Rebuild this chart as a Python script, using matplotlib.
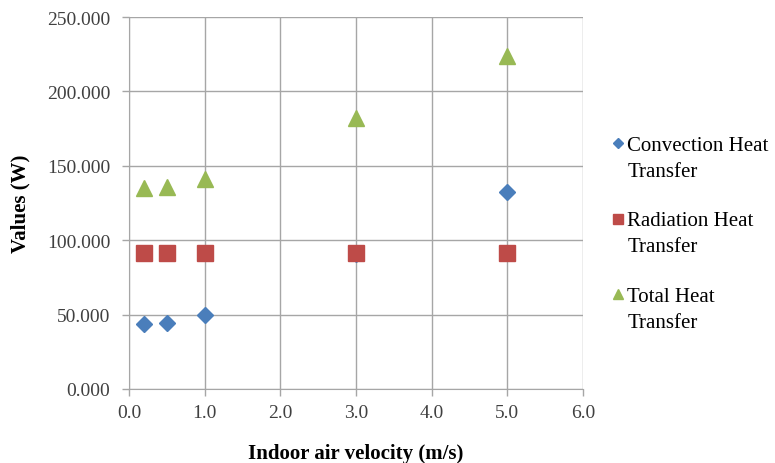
import matplotlib
matplotlib.use("Agg")
import matplotlib.pyplot as plt
import numpy as np
from matplotlib.legend_handler import HandlerLine2D

# Données
velocity = [0.2, 0.5, 1.0, 3.0, 5.0]
convection = [43.7, 44.4, 49.7, 91.0, 132.4]
radiation = [91.5, 91.5, 91.5, 91.5, 91.5]
total = [135.2, 135.9, 141.2, 182.5, 223.9]

labels = ["Convection Heat\nTransfer", "Radiation Heat\nTransfer", "Total Heat\nTransfer"]
colors = ["#4a7ebb", "#be4b48", "#98b954"]
markers = ["D", "s", "^"]

x_ticks = [0.0, 1.0, 2.0, 3.0, 4.0, 5.0, 6.0]
y_ticks = [0, 50, 100, 150, 200, 250]


class TopHandler(HandlerLine2D):
    """ Place le marqueur de la légende au niveau de la première ligne """
    def create_artists(self, legend, orig_handle, xdescent, ydescent, width, height, fontsize, trans):
        artists = super().create_artists(legend, orig_handle, xdescent, ydescent, width, height, fontsize, trans)
        for a in artists:
            a.set_ydata(np.asarray(a.get_ydata()) + 0.72 * fontsize)
        return artists


plt.rcParams["font.family"] = ["Liberation Serif", "DejaVu Serif"]

fig = plt.figure(figsize=(7.75, 4.64), dpi=100)
ax = fig.add_axes([0.1665, 0.1595, 0.5855, 0.8015])

sizes = [8.2, 11.5, 11.5]
orders = [3, 4, 3]
for series, label, color, marker, ms, z in zip([convection, radiation, total], labels, colors, markers, sizes, orders):
    ax.plot(velocity, series, linestyle="none", marker=marker, markersize=ms,
            color=color, label=label, zorder=z)

ax.set_xlim(0, 6)
ax.set_ylim(0, 250)
ax.set_xticks(x_ticks)
ax.set_yticks(y_ticks)
ax.set_xticklabels(["%.1f" % v for v in x_ticks])
ax.set_yticklabels(["%.3f" % v for v in y_ticks])

ax.grid(True, color="#a6a6a6", linewidth=1)
ax.set_axisbelow(True)
for side in ["top", "right"]:
    ax.spines[side].set_visible(False)
for side in ["left", "bottom"]:
    ax.spines[side].set_color("#a6a6a6")
ax.tick_params(colors="#a6a6a6", labelcolor="#404040", labelsize=14, length=5, width=1)
ax.tick_params(axis="y", pad=8.5)
ax.tick_params(axis="x", pad=5.5)

ax.set_xlabel("Indoor air velocity (m/s)", fontsize=15, fontweight="bold", labelpad=16)
ax.set_ylabel("Values (W)", fontsize=15, fontweight="bold", labelpad=12)

leg = ax.legend(loc="center left", bbox_to_anchor=(1.022, 0.417), frameon=False,
                fontsize=15, markerscale=0.6, handlelength=0.6, handletextpad=0.15,
                labelspacing=1.45, handler_map={plt.Line2D: TopHandler()})
for t in leg.get_texts():
    t.set_linespacing(1.5)

fig.savefig("out.png", dpi=100)
